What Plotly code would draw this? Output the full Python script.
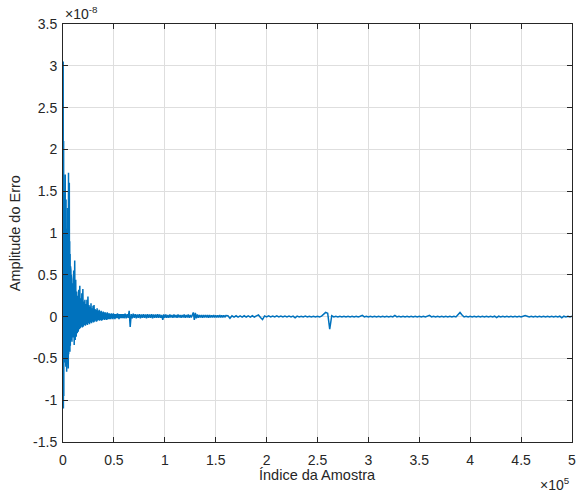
import numpy as np
import plotly.graph_objects as go

# Error amplitude, in units of 1e-8
# Segment A: samples 0..10000, step 200
err_a = [0.0, 3.05, -1.10, 2.10, -0.95, 1.45, -0.70, 1.30, -0.55, 1.65,
         -0.50, 1.70, -0.45, 1.20, -0.60, 1.40, -0.48, 1.05, -0.66, 0.95,
         -0.40, 1.10, -0.55, 1.30, -0.35, 1.50, -0.62, 1.72, -0.45, 1.35,
         -0.40, 1.60, -0.30, 0.90, -0.42, 0.75, -0.35, 0.60, -0.30, 0.55,
         -0.28, 0.50, -0.25, 0.45, -0.30, 0.40, -0.22, 0.35, -0.25, 0.45,
         -0.20]
# Segment B: samples 10500..60000, step 500
err_b = [0.55, -0.34, 0.67, -0.28, 0.44, -0.24, 0.30, -0.20, 0.25, -0.18,
         0.32, -0.15, 0.37, -0.14, 0.22, -0.12, 0.28, -0.13, 0.33, -0.12,
         0.18, -0.10, 0.20, -0.11, 0.15, -0.09, 0.20, -0.10, 0.24, -0.08,
         0.14, -0.09, 0.12, -0.07, 0.16, -0.08, 0.10, -0.06, 0.13, -0.07,
         0.14, -0.06, 0.09, -0.05, 0.08, -0.06, 0.10, -0.05, 0.07, -0.04,
         0.08, -0.05, 0.06, -0.04, 0.07, -0.05, 0.05, -0.04, 0.06, -0.03,
         0.05, -0.04, 0.05, -0.03, 0.04, -0.04, 0.05, -0.03, 0.04, -0.03,
         0.04, -0.03, 0.03, -0.03, 0.04, -0.02, 0.03, -0.03, 0.04, -0.02,
         0.03, -0.03, 0.03, -0.02, 0.03, -0.02, 0.04, -0.02, 0.03, -0.03,
         0.03, -0.02, 0.03, -0.02, 0.03, -0.02, 0.03, -0.02, 0.03, -0.02]
# Segment C: samples 61000..160000, step 1000
err_c = [0.035, -0.02, 0.03, -0.015, 0.07, -0.125, 0.03, -0.02, 0.035, -0.015,
         0.03, -0.02, 0.025, -0.015, 0.03, -0.02, 0.025, -0.015, 0.03, -0.015,
         0.025, -0.02, 0.03, -0.015, 0.025, -0.015, 0.03, -0.02, 0.025, -0.015,
         0.025, -0.015, 0.03, -0.015, 0.025, -0.015, 0.02, -0.04, 0.025, -0.015,
         0.025, -0.015, 0.02, -0.015, 0.025, -0.01, 0.02, -0.015, 0.025, -0.01,
         0.02, -0.015, 0.025, -0.01, 0.02, -0.015, 0.02, -0.01, 0.025, -0.015,
         0.02, -0.01, 0.025, -0.015, 0.02, -0.01, 0.025, 0.05, -0.04, 0.045,
         -0.02, 0.025, -0.015, 0.02, -0.01, 0.02, -0.015, 0.02, -0.01, 0.02,
         -0.01, 0.02, -0.015, 0.02, -0.01, 0.015, -0.01, 0.02, -0.01, 0.015,
         -0.01, 0.015, -0.01, 0.02, -0.01, 0.015, -0.01, 0.015, -0.008, 0.012]
# Segment D: samples 162000..500000, step 2000
err_d = [0.01, -0.02, 0.01, -0.006, 0.01, -0.006, 0.008, -0.006, 0.01, -0.005,
         0.008, -0.006, 0.01, -0.005, 0.008, 0.02, -0.01, -0.035, 0.008, -0.005,
         0.008, -0.005, 0.007, -0.005, 0.008, -0.004, 0.007, -0.005, 0.006, -0.004,
         0.006, -0.004, 0.006, -0.015, 0.006, -0.004, 0.005, -0.004, 0.006, -0.004,
         0.005, -0.004, 0.005, -0.004, 0.005, -0.004, 0.006, 0.03, 0.05, 0.04,
         -0.15, 0.01, -0.004, 0.005, -0.004, 0.005, -0.004, 0.005, -0.004, 0.005,
         -0.004, 0.005, -0.004, 0.005, -0.004, 0.005, 0.015, -0.004, 0.005, -0.004,
         0.005, -0.004, 0.005, -0.004, 0.005, -0.004, 0.005, -0.004, 0.005, -0.004,
         0.005, -0.004, 0.015, -0.004, 0.005, -0.004, 0.005, -0.004, 0.005, -0.004,
         0.005, -0.004, 0.005, -0.004, 0.005, -0.004, 0.005, -0.004, 0.005, 0.015,
         -0.004, 0.005, -0.004, 0.005, -0.004, 0.005, -0.004, 0.005, -0.004, 0.005,
         -0.004, 0.005, -0.004, 0.03, 0.05, 0.02, -0.004, 0.005, -0.004, 0.005,
         -0.004, 0.005, -0.004, 0.005, -0.004, 0.005, -0.004, 0.005, -0.004, 0.005,
         -0.004, 0.005, -0.012, 0.005, -0.004, 0.005, -0.004, 0.005, -0.004, 0.005,
         -0.004, 0.005, -0.004, 0.005, -0.004, 0.005, 0.012, 0.005, -0.004, 0.005,
         -0.004, 0.005, -0.004, 0.005, -0.004, 0.005, -0.004, 0.005, -0.004, 0.005,
         -0.004, 0.005, -0.004, 0.005, -0.015, 0.005, -0.004, 0.005, -0.004, 0.004]

idx_a = 0 + 200 * np.arange(len(err_a))
idx_b = 10500 + 500 * np.arange(len(err_b))
idx_c = 61000 + 1000 * np.arange(len(err_c))
idx_d = 162000 + 2000 * np.arange(len(err_d))

sample_idx = np.concatenate([idx_a, idx_b, idx_c, idx_d])
error_amp = np.concatenate([err_a, err_b, err_c, err_d]) * 1e-8

x_ticks = [0, 50000, 100000, 150000, 200000, 250000, 300000, 350000, 400000, 450000, 500000]
x_tick_labels = ["0", "0.5", "1", "1.5", "2", "2.5", "3", "3.5", "4", "4.5", "5"]
y_ticks = [-1.5e-8, -1e-8, -0.5e-8, 0, 0.5e-8, 1e-8, 1.5e-8, 2e-8, 2.5e-8, 3e-8, 3.5e-8]
y_tick_labels = ["-1.5", "-1", "-0.5", "0", "0.5", "1", "1.5", "2", "2.5", "3", "3.5"]

font_family = "Liberation Sans, Arial, sans-serif"
axis_color = "#262626"
grid_color = "#dedede"

fig = go.Figure()
fig.add_trace(go.Scatter(
    x=sample_idx, y=error_amp, mode="lines",
    line=dict(color="#0072BD", width=1.5),
    showlegend=False, hoverinfo="skip",
))

common_axis = dict(
    showline=True, linecolor=axis_color, linewidth=1, mirror="ticks",
    ticks="inside", ticklen=5, tickcolor=axis_color, tickwidth=1,
    showgrid=True, gridcolor=grid_color, gridwidth=1, zeroline=False,
    tickfont=dict(family=font_family, size=14, color=axis_color),
    ticklabeloverflow="allow",
)

fig.update_layout(
    width=578, height=495,
    margin=dict(l=63, r=2, t=24, b=53),
    paper_bgcolor="white", plot_bgcolor="white",
    xaxis=dict(range=[0, 500000], tickvals=x_ticks, ticktext=x_tick_labels,
               ticklabelstandoff=5, **common_axis),
    yaxis=dict(range=[-1.5e-8, 3.5e-8], tickvals=y_ticks, ticktext=y_tick_labels,
               ticklabelstandoff=2, **common_axis),
    annotations=[
        dict(text="Índice da Amostra", xref="paper", yref="paper", x=0.5, y=-0.078,
             xanchor="center", yanchor="middle", showarrow=False,
             font=dict(family=font_family, size=14.5, color=axis_color)),
        dict(text="Amplitude do Erro", xref="paper", yref="paper", x=-0.094, y=0.5,
             xanchor="center", yanchor="middle", textangle=-90, showarrow=False,
             font=dict(family=font_family, size=14.5, color=axis_color)),
        dict(text="×10<sup>-8</sup>", xref="paper", yref="paper", x=0, y=1.0,
             xanchor="left", yanchor="bottom", showarrow=False,
             font=dict(family=font_family, size=14, color=axis_color)),
        dict(text="×10<sup>5</sup>", xref="paper", yref="paper", x=1.0, y=-0.1,
             xanchor="right", yanchor="middle", showarrow=False,
             font=dict(family=font_family, size=14, color=axis_color)),
    ],
)

fig.write_html("out.html")
